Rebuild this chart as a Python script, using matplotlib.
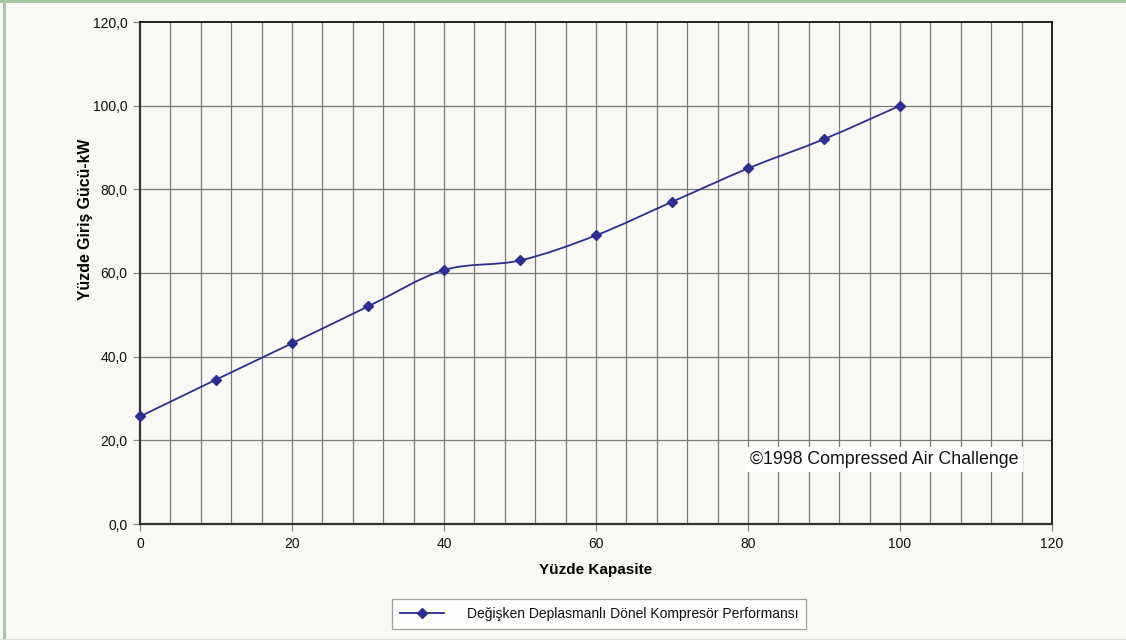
import numpy as np
import matplotlib.pyplot as plt
from matplotlib.path import Path
from matplotlib.patches import PathPatch, Rectangle
from matplotlib.lines import Line2D

plt.rcParams['font.family'] = ['Liberation Sans', 'DejaVu Sans']

# Percent capacity vs percent input power
capacity = [0, 10, 20, 30, 40, 50, 60, 70, 80, 90, 100]
power_kw = [25.7, 34.5, 43.2, 52.0, 60.7, 63.0, 69.0, 77.0, 85.0, 92.0, 100.0]

x_ticks = [0, 20, 40, 60, 80, 100, 120]
y_ticks = [0, 20, 40, 60, 80, 100, 120]
y_labels = ['0,0', '20,0', '40,0', '60,0', '80,0', '100,0', '120,0']
series_name = 'Değişken Deplasmanlı Dönel Kompresör Performansı'

bg = '#f9f8f4'
navy = '#2e2e8f'

fig = plt.figure(figsize=(11.26, 6.4), dpi=100, facecolor=bg)
ax = fig.add_axes([140 / 1126, 1 - 524 / 640, 912 / 1126, 502 / 640])
ax.set_facecolor(bg)

ax.set_xlim(0, 120)
ax.set_ylim(0, 120)

# grid: vertical every 4 units, horizontal every 20
for gx in np.arange(4, 120, 4):
    ax.axvline(gx, color='#7a7a7a', lw=0.9, zorder=1)
for gy in y_ticks[1:-1]:
    ax.axhline(gy, color='#7a7a7a', lw=0.9, zorder=1)

ax.set_xticks(x_ticks)
ax.set_yticks(y_ticks)
ax.set_yticklabels(y_labels)
ax.tick_params(axis='both', direction='out', length=5, width=0.9,
               color='#888888', labelsize=10, pad=4, labelcolor='#111111')

for side in ['left', 'bottom']:
    ax.spines[side].set_linewidth(1.6)
    ax.spines[side].set_color('#333333')
for side in ['top', 'right']:
    ax.spines[side].set_linewidth(1.3)
    ax.spines[side].set_color('#111111')

ax.set_xlabel('Yüzde Kapasite', fontsize=11, fontweight='bold', labelpad=9)
ax.set_ylabel('Yüzde Giriş Gücü-kW', fontsize=11.4, fontweight='bold')
ax.yaxis.label.set_verticalalignment('center')
ax.yaxis.set_label_coords(-0.0603, 0.606)

# smoothed line (cardinal bezier through the points)
pts = np.column_stack([capacity, power_kw])
n = len(pts)
verts = [pts[0]]
codes = [Path.MOVETO]
for i in range(n - 1):
    p0 = pts[max(i - 1, 0)]
    p1 = pts[i]
    p2 = pts[i + 1]
    p3 = pts[min(i + 2, n - 1)]
    c1 = p1 + (p2 - p0) / 6.0
    c2 = p2 - (p3 - p1) / 6.0
    verts += [c1, c2, p2]
    codes += [Path.CURVE4] * 3
curve = PathPatch(Path(verts, codes), facecolor='none', edgecolor=navy,
                  lw=1.3, zorder=3, clip_on=False)
ax.add_patch(curve)
ax.plot(capacity, power_kw, ls='none', marker='D', ms=5.5, color=navy,
        zorder=4, clip_on=False)

ax.text(80.3, 15.5, '©1998 Compressed Air Challenge', fontsize=12.8,
        color='#111111', va='center', ha='left', zorder=5,
        bbox=dict(facecolor='white', edgecolor='none', pad=3))

# legend
handle = Line2D([], [], color=navy, lw=1.3, marker='D', ms=5.5)
leg = fig.legend([handle], [series_name], loc='center',
                 bbox_to_anchor=(599 / 1126, 1 - 614 / 640), frameon=True,
                 fancybox=False, fontsize=10, handlelength=3.2,
                 borderpad=0.55, handletextpad=1.6, borderaxespad=0)
leg.get_frame().set_edgecolor('#888888')
leg.get_frame().set_facecolor('white')
leg.get_frame().set_linewidth(0.9)
for t in leg.get_texts():
    t.set_color('#111111')

# outer frame lines
fig.add_artist(Rectangle((3 / 1126, 0), 2.5 / 1126, 1, transform=fig.transFigure,
                         facecolor='#a9c8a6', edgecolor='none'))
fig.add_artist(Rectangle((0, 1 - 2.5 / 640), 1, 2.5 / 640, transform=fig.transFigure,
                         facecolor='#a9c8a6', edgecolor='none'))
fig.add_artist(Rectangle((0, 0), 1, 1.5 / 640, transform=fig.transFigure,
                         facecolor='#dde3d8', edgecolor='none'))

fig.savefig('out.png', dpi=100, facecolor=bg)
